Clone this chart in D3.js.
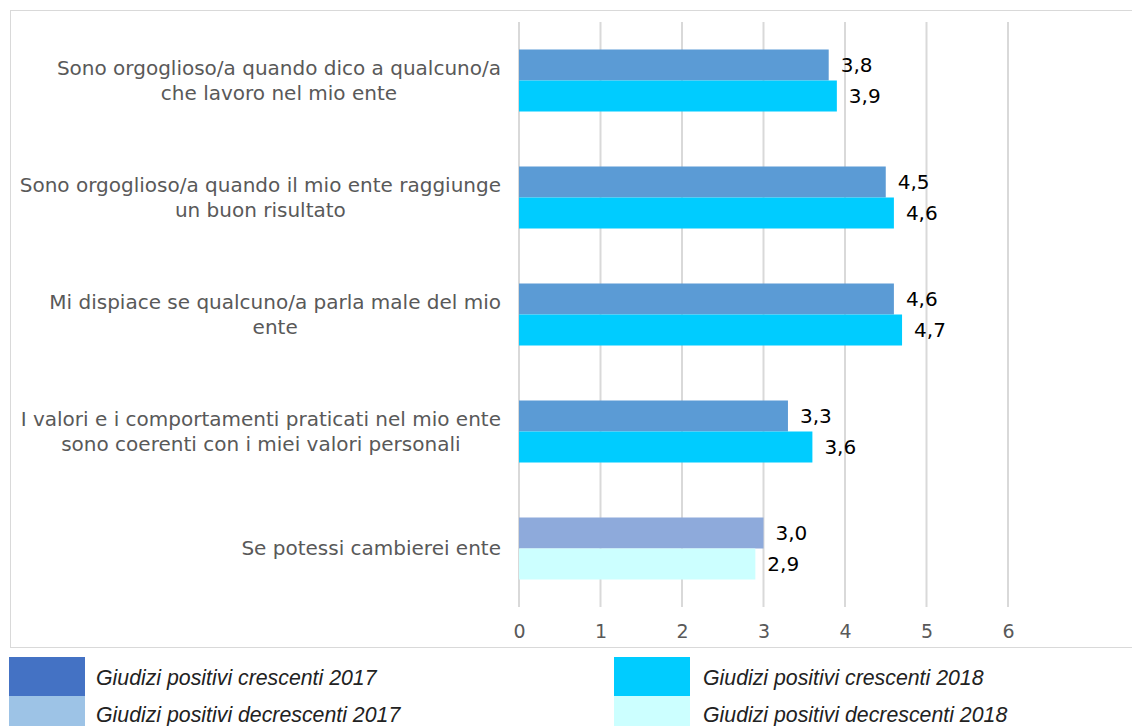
<!DOCTYPE html>
<html>
<head>
<meta charset="utf-8">
<script src="https://cdn.jsdelivr.net/npm/d3@7"></script>
<style>
  body { margin: 0; background: #fff; }
  svg { display: block; }
</style>
</head>
<body>
<div id="chart"></div>
<script>
// categories, top to bottom
var categories = [
  ["Sono orgoglioso/a quando dico a qualcuno/a", "che lavoro nel mio ente"],
  ["Sono orgoglioso/a quando il mio ente raggiunge", "un buon risultato"],
  ["Mi dispiace se qualcuno/a parla male del mio", "ente"],
  ["I valori e i comportamenti praticati nel mio ente", "sono coerenti con i miei valori personali"],
  ["Se potessi cambierei ente"]
];
var values2017 = [3.8, 4.5, 4.6, 3.3, 3.0];
var values2018 = [3.9, 4.6, 4.7, 3.6, 2.9];
// last item is a "decrescente" judgement
var kind = ["cresc", "cresc", "cresc", "cresc", "decresc"];
var xTicks = [0, 1, 2, 3, 4, 5, 6];
var legendLabels = [
  "Giudizi positivi crescenti 2017",
  "Giudizi positivi crescenti 2018",
  "Giudizi positivi decrescenti 2017",
  "Giudizi positivi decrescenti 2018"
];

var barColor = {
  cresc: ["#5b9bd5", "#00ccff"],
  decresc: ["#8eaadb", "#ccffff"]
};
var legendColors = ["#4472c4", "#00ccff", "#9dc3e6", "#ccffff"];
var FONT = "DejaVu Sans, Verdana, sans-serif";

var W = 1132, H = 726;
var svg = d3.select("#chart").append("svg")
    .attr("width", W)
    .attr("height", H);

// chart frame
svg.append("rect")
    .attr("x", 10.5).attr("y", 10.5)
    .attr("width", 1130).attr("height", 637)
    .attr("fill", "none")
    .attr("stroke", "#d9d9d9")
    .attr("stroke-width", 1);

// scales
var x = d3.scaleLinear().domain([0, 6]).range([519, 1008]);
var y = d3.scaleBand().domain(d3.range(categories.length)).range([22, 607]).paddingInner(0.47).paddingOuter(0.235);
var sub = d3.scaleBand().domain([0, 1]).range([0, y.bandwidth()]);

// gridlines
svg.append("g").selectAll("line")
    .data(xTicks)
    .join("line")
    .attr("x1", d => x(d)).attr("x2", d => x(d))
    .attr("y1", 22).attr("y2", 607)
    .attr("stroke", "#d9d9d9")
    .attr("stroke-width", 2);

// x axis labels
var xAxis = svg.append("g")
    .attr("transform", "translate(0,607)")
    .call(d3.axisBottom(x).tickValues(xTicks).tickSize(0).tickPadding(18).tickFormat(d3.format("d")));
xAxis.select(".domain").remove();
xAxis.selectAll("text")
    .attr("fill", "#595959")
    .style("font-family", FONT)
    .style("font-size", "19px");

var fmt = function(v) { return d3.format(".1f")(v).replace(".", ","); };

var rows = categories.map(function(c, i) {
  return {i: i, lines: c, v: [values2017[i], values2018[i]], kind: kind[i]};
});

var groups = svg.append("g").selectAll("g")
    .data(rows)
    .join("g")
    .attr("transform", d => "translate(0," + y(d.i) + ")");

// bars
groups.selectAll("rect")
    .data(d => d.v.map((v, j) => ({v: v, j: j, kind: d.kind})))
    .join("rect")
    .attr("x", x(0))
    .attr("y", d => sub(d.j))
    .attr("width", d => x(d.v) - x(0))
    .attr("height", sub.bandwidth())
    .attr("fill", d => barColor[d.kind][d.j]);

// value labels
groups.selectAll("text.val")
    .data(d => d.v.map((v, j) => ({v: v, j: j})))
    .join("text")
    .attr("class", "val")
    .attr("x", d => x(d.v) + 12)
    .attr("y", d => sub(d.j) + sub.bandwidth() / 2)
    .attr("dy", "0.35em")
    .attr("fill", "#000")
    .style("font-family", FONT)
    .style("font-size", "20px")
    .text(d => fmt(d.v));

// category labels: block right aligned, lines centred in the block
groups.each(function(d) {
  var g = d3.select(this);
  var lh = 25;
  var cy = y.bandwidth() / 2;
  var t = g.append("text")
      .attr("fill", "#595959")
      .style("font-family", FONT)
      .style("font-size", "20px");
  var spans = t.selectAll("tspan")
      .data(d.lines)
      .join("tspan")
      .attr("y", (l, k) => cy + (k - (d.lines.length - 1) / 2) * lh)
      .attr("dy", "0.35em")
      .text(l => l);
  var widths = [];
  spans.each(function() { widths.push(this.getComputedTextLength()); });
  var maxW = d3.max(widths);
  var right = 501;
  if (d.lines.length === 1) {
    spans.attr("x", right).attr("text-anchor", "end");
  } else {
    spans.attr("x", right - maxW / 2).attr("text-anchor", "middle");
  }
});

// legend
var legend = svg.append("g").selectAll("g")
    .data(legendLabels)
    .join("g")
    .attr("transform", (d, i) => "translate(" + (i % 2 === 0 ? 9 : 614) + "," + (i < 2 ? 657 : 696) + ")");

legend.append("rect")
    .attr("width", 76)
    .attr("height", (d, i) => i < 2 ? 39 : 30)
    .attr("fill", (d, i) => legendColors[i]);

legend.append("text")
    .attr("x", (d, i) => i % 2 === 0 ? 87 : 89)
    .attr("y", (d, i) => i < 2 ? 28 : 26)
    .attr("fill", "#222")
    .style("font-family", "Liberation Sans, Arial, sans-serif")
    .style("font-style", "italic")
    .style("font-size", "21.3px")
    .text(d => d);
</script>
</body>
</html>
